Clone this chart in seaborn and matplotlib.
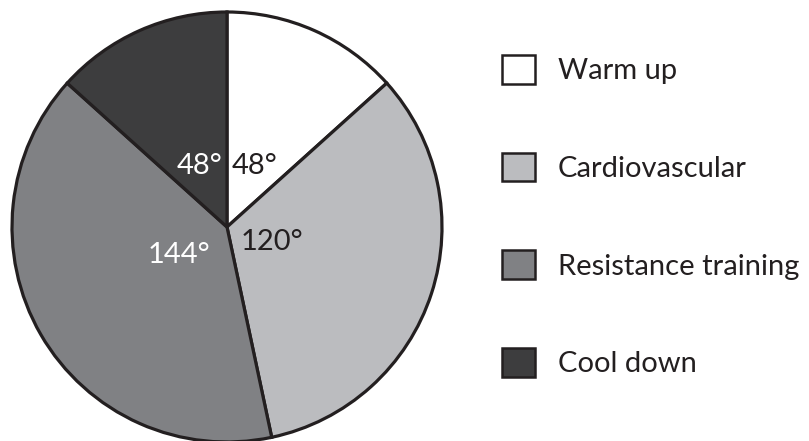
import matplotlib
matplotlib.use("Agg")
import numpy as np
import matplotlib.pyplot as plt
import seaborn as sns

# data
activities = ["Warm up", "Cardiovascular", "Resistance training", "Cool down"]
angles = [48, 120, 144, 48]
angle_labels = ["48°", "120°", "144°", "48°"]

# style
fills = ["#ffffff", "#bbbcbf", "#808184", "#3d3d3e"]
label_colors = ["#231f20", "#231f20", "#ffffff", "#ffffff"]
label_dist = [0.31, 0.22, 0.26, 0.31]
edge = "#231f20"

sns.set_theme(style="white")
plt.rcParams["font.family"] = ["Lato", "DejaVu Sans"]

fig = plt.figure(figsize=(8.09, 4.41), dpi=100)
# pie centre ~ (227, 227) px, radius ~ 215 px
ax = fig.add_axes([12 / 809, -1 / 441, 430 / 809, 430 / 441])

wedges, _ = ax.pie(
    angles,
    colors=fills,
    startangle=90,
    counterclock=False,
    radius=1,
    wedgeprops=dict(edgecolor=edge, linewidth=2.3),
)
ax.set_xlim(-1, 1)
ax.set_ylim(-1, 1)
ax.set_aspect("equal")
ax.axis("off")

for w, lab, c, d in zip(wedges, angle_labels, label_colors, label_dist):
    mid = np.deg2rad((w.theta1 + w.theta2) / 2)
    ax.text(d * np.cos(mid), d * np.sin(mid), lab, color=c,
            ha="center", va="center", fontsize=21)

leg = fig.legend(
    wedges, activities,
    loc="upper left",
    bbox_to_anchor=(502 / 809, 1 - 55 / 441),
    frameon=False,
    fontsize=21,
    handlelength=1.13,
    handleheight=1.13,
    handletextpad=0.79,
    labelspacing=2.35,
    borderpad=0,
    borderaxespad=0,
)
for t in leg.get_texts():
    t.set_color("#231f20")
for h in leg.legend_handles:
    h.set_linewidth(1.8)

fig.savefig("out.png", dpi=100)
